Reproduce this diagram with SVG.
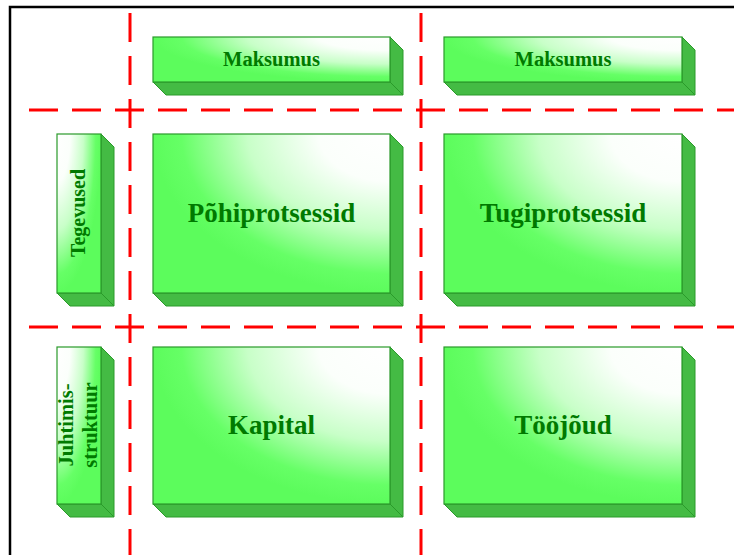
<svg xmlns="http://www.w3.org/2000/svg" width="734" height="555" viewBox="0 0 734 555">
  <defs>
    <!-- face shading: light in the top-right corner, green towards left and bottom -->
    <radialGradient id="faceTR" cx="1" cy="0" r="1" fx="1" fy="0" gradientUnits="objectBoundingBox">
      <stop offset="0" stop-color="#ffffff"/>
      <stop offset="0.3" stop-color="#fbfffb"/>
      <stop offset="0.6" stop-color="#c8ffc8"/>
      <stop offset="0.88" stop-color="#66ff66"/>
      <stop offset="1" stop-color="#5cfc5c"/>
    </radialGradient>
    <!-- same shading for the upright boxes, light in the top-left corner -->
    <radialGradient id="faceTL" cx="0" cy="0" r="1" fx="0" fy="0" gradientUnits="objectBoundingBox">
      <stop offset="0" stop-color="#ffffff"/>
      <stop offset="0.3" stop-color="#fbfffb"/>
      <stop offset="0.6" stop-color="#c8ffc8"/>
      <stop offset="0.88" stop-color="#66ff66"/>
      <stop offset="1" stop-color="#5cfc5c"/>
    </radialGradient>
  </defs>
  <style>
    .front { stroke: #2a9a2a; stroke-width: 1.2; }
    .side { fill: #44bb44; stroke: #2a9a2a; stroke-width: 1; stroke-linejoin: round; }
    .label { font-family: "Liberation Serif", "Times New Roman", serif; font-weight: bold; fill: #007a00; text-anchor: middle; }
    .grid { stroke: #ff0000; stroke-width: 3; stroke-dasharray: 29 14; fill: none; }
  </style>

  <rect width="734" height="555" fill="#ffffff"/>

  <!-- outer frame (left and top edges) -->
  <path d="M10,560 V7 H740" fill="none" stroke="#000000" stroke-width="2.5"/>

  <!-- dashed grid lines -->
  <g id="grid-lines">
    <line class="grid" x1="130" y1="13" x2="130" y2="560"/>
    <line class="grid" x1="421" y1="13" x2="421" y2="560"/>
    <line class="grid" x1="29" y1="110" x2="740" y2="110"/>
    <line class="grid" x1="29" y1="327" x2="740" y2="327"/>
  </g>

  <!-- Maksumus (left) -->
  <g id="maksumus-1">
    <polygon class="side" points="153,82 390,82 403,95 166,95"/>
    <polygon class="side" points="390,37 403,50 403,95 390,82"/>
    <rect class="front" x="153" y="37" width="237" height="45" fill="url(#faceTR)"/>
    <text class="label" x="271.5" y="66" font-size="20.5">Maksumus</text>
  </g>

  <!-- Maksumus (right) -->
  <g id="maksumus-2">
    <polygon class="side" points="444,82 682,82 695,95 457,95"/>
    <polygon class="side" points="682,37 695,50 695,95 682,82"/>
    <rect class="front" x="444" y="37" width="238" height="45" fill="url(#faceTR)"/>
    <text class="label" x="563" y="66" font-size="20.5">Maksumus</text>
  </g>

  <!-- Tegevused -->
  <g id="tegevused">
    <polygon class="side" points="57,293 101,293 114,306 70,306"/>
    <polygon class="side" points="101,134 114,147 114,306 101,293"/>
    <rect class="front" x="57" y="134" width="44" height="159" fill="url(#faceTL)"/>
    <text class="label" transform="translate(85,213) rotate(-90)" x="0" y="0" font-size="20">Tegevused</text>
  </g>

  <!-- Põhiprotsessid -->
  <g id="pohiprotsessid">
    <polygon class="side" points="153,293 390,293 403,306 166,306"/>
    <polygon class="side" points="390,134 403,147 403,306 390,293"/>
    <rect class="front" x="153" y="134" width="237" height="159" fill="url(#faceTR)"/>
    <text class="label" x="271.5" y="222" font-size="27">Põhiprotsessid</text>
  </g>

  <!-- Tugiprotsessid -->
  <g id="tugiprotsessid">
    <polygon class="side" points="444,293 682,293 695,306 457,306"/>
    <polygon class="side" points="682,134 695,147 695,306 682,293"/>
    <rect class="front" x="444" y="134" width="238" height="159" fill="url(#faceTR)"/>
    <text class="label" x="563" y="222" font-size="27">Tugiprotsessid</text>
  </g>

  <!-- Juhtimisstruktuur -->
  <g id="juhtimisstruktuur">
    <polygon class="side" points="57,504 101,504 114,517 70,517"/>
    <polygon class="side" points="101,347 114,360 114,517 101,504"/>
    <rect class="front" x="57" y="347" width="44" height="157" fill="url(#faceTL)"/>
    <text class="label" transform="translate(73,425) rotate(-90)" x="0" y="0" font-size="20.5">Juhtimis-</text>
    <text class="label" transform="translate(97,425) rotate(-90)" x="0" y="0" font-size="20.5">struktuur</text>
  </g>

  <!-- Kapital -->
  <g id="kapital">
    <polygon class="side" points="153,504 390,504 403,517 166,517"/>
    <polygon class="side" points="390,347 403,360 403,517 390,504"/>
    <rect class="front" x="153" y="347" width="237" height="157" fill="url(#faceTR)"/>
    <text class="label" x="271.5" y="434" font-size="27">Kapital</text>
  </g>

  <!-- Tööjõud -->
  <g id="toojoud">
    <polygon class="side" points="444,504 682,504 695,517 457,517"/>
    <polygon class="side" points="682,347 695,360 695,517 682,504"/>
    <rect class="front" x="444" y="347" width="238" height="157" fill="url(#faceTR)"/>
    <text class="label" x="563" y="434" font-size="27">Tööjõud</text>
  </g>
</svg>
